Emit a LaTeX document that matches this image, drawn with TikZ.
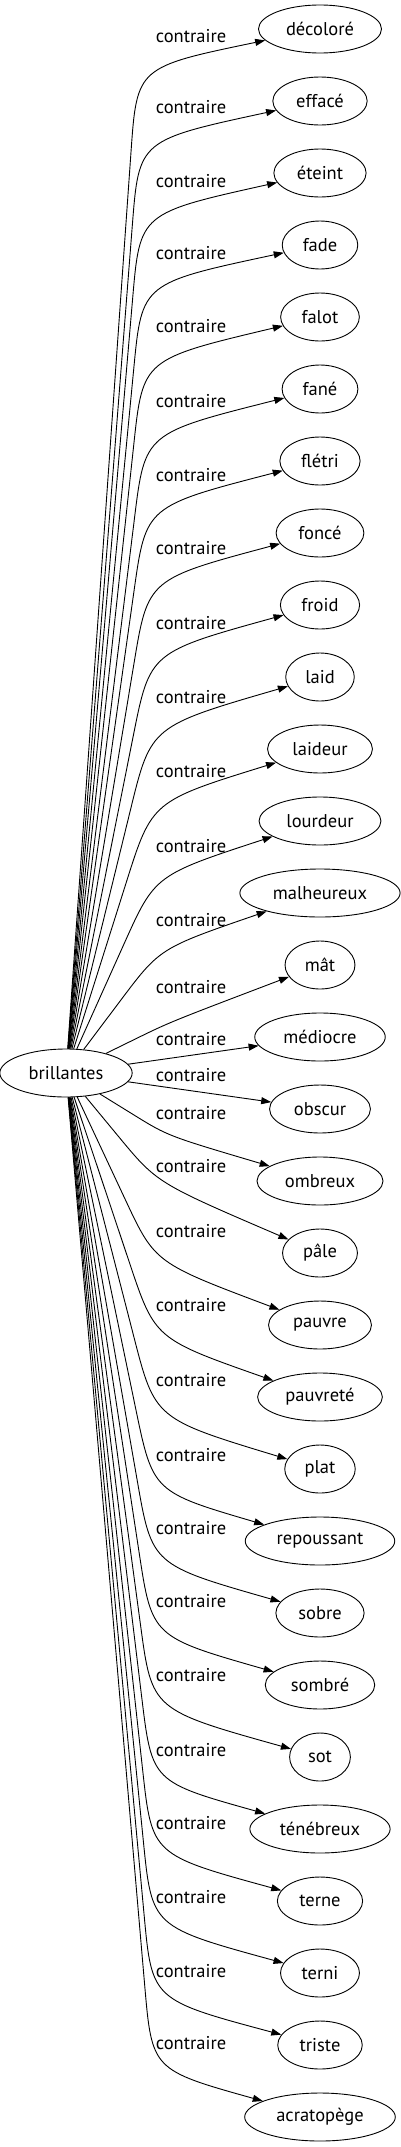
\documentclass[tikz,border=0pt]{standalone}
\usepackage{fontspec}
\setmainfont{PT Sans}
\usetikzlibrary{positioning,shapes.geometric,arrows.meta,calc}

\tikzset{
	mot/.style={ellipse, draw, line width=0.9pt, minimum height=48pt, inner xsep=9.5pt, inner ysep=0pt},
	lien/.style={line width=0.9pt, -{Triangle[length=10pt,width=7pt]}},
	rel/.style={inner sep=0pt, anchor=base},
}

\begin{document}
\begin{tikzpicture}[x=1pt, y=-1pt, font=\fontsize{18.5}{20}\selectfont]
	\useasboundingbox (0,0) rectangle (401,2147);

	% mot de depart
	\node[mot] (b) at (66,1073) {brillantes};

	% les contraires, de haut en bas
	\foreach \mot [count=\i from 0] in {décoloré, effacé, éteint, fade, falot, fané, flétri, foncé, froid, laid, laideur, lourdeur, malheureux, mât, médiocre, obscur, ombreux, pâle, pauvre, pauvreté, plat, repoussant, sobre, sombré, sot, ténébreux, terne, terni, triste, acratopège}
		\node[mot] (t\i) at (320,{29+72*\i}) {\mot};

	% arcs courbes : numero / y etiquette / x du coude / decalage du coude / recul
	\foreach \i/\lab/\kx/\kdy/\d in {0/38/137/38/85, 1/109/139/39/85, 2/183/140/40/85, 3/255/142/38/85,
		4/328/143/42/85, 5/403/145/44/85, 6/477/146/45/85, 7/550/148/46/85, 8/625/150/47/85,
		9/699/151/49/85, 10/773/152/52/85, 11/848/155/54/75, 12/922/160/55/65, 13/989/170/57/40,
		16/1115/168/-45/40, 17/1168/157/-70/60, 18/1233/155/-62/70, 19/1307/155/-58/80,
		20/1382/155/-50/85, 21/1457/153/-49/85, 22/1530/152/-48/85, 23/1603/152/-48/85,
		24/1677/152/-47/85, 25/1752/152/-47/85, 26/1825/152/-46/85, 27/1899/152/-46/85,
		28/1973/152/-45/85, 29/2045/152/-47/85}{
		\coordinate (k\i) at (\kx,{29+72*\i+\kdy});
		\draw[lien] (b) -- ($(k\i)!\d pt!(b)$) .. controls (k\i) .. (t\i);
		\node[rel] (l\i) at (191,{\lab+4.5}) {contraire};
	}

	% les deux arcs presque droits
	\draw[lien] (b) -- (t14);
	\draw[lien] (b) -- (t15);
	\node[rel] (l14) at (191,1045.5) {contraire};
	\node[rel] (l15) at (191,1081.5) {contraire};
\end{tikzpicture}
\end{document}
